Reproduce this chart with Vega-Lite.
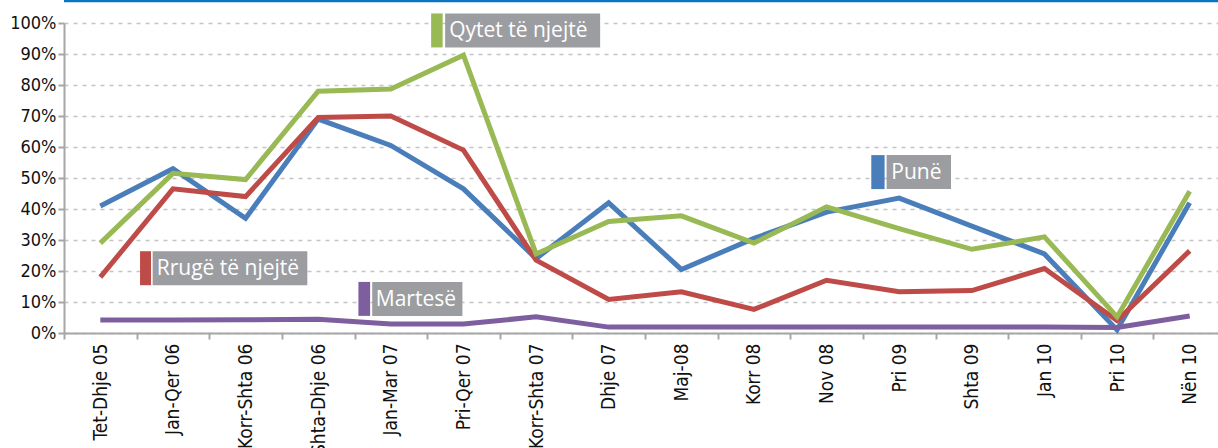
{
  "$schema": "https://vega.github.io/schema/vega-lite/v6.json",
  "autosize": {"type": "none"},
  "width": 1154,
  "height": 310,
  "padding": {"left": 64, "top": 23, "right": 0, "bottom": 115},
  "background": "white",
  "config": {
    "view": {"stroke": null},
    "axis": {"labelFont": "DejaVu Sans Condensed, Liberation Sans Narrow, sans-serif", "labelFontSize": 18, "labelColor": "#111111", "domainColor": "#a6a6a6", "domainWidth": 2, "tickColor": "#a6a6a6", "tickWidth": 2, "tickSize": 6, "title": null}
  },
  "datasets": {
    "series": [
      {"p": "Tet-Dhje 05", "s": "Punë", "v": 41},
      {"p": "Jan-Qer 06", "s": "Punë", "v": 53},
      {"p": "Korr-Shta 06", "s": "Punë", "v": 37},
      {"p": "Shta-Dhje 06", "s": "Punë", "v": 69},
      {"p": "Jan-Mar 07", "s": "Punë", "v": 60.5},
      {"p": "Pri-Qer 07", "s": "Punë", "v": 46.5},
      {"p": "Korr-Shta 07", "s": "Punë", "v": 24},
      {"p": "Dhje 07", "s": "Punë", "v": 42},
      {"p": "Maj-08", "s": "Punë", "v": 20.5},
      {"p": "Korr 08", "s": "Punë", "v": 30.5},
      {"p": "Nov 08", "s": "Punë", "v": 39},
      {"p": "Pri 09", "s": "Punë", "v": 43.5},
      {"p": "Shta 09", "s": "Punë", "v": 34.5},
      {"p": "Jan 10", "s": "Punë", "v": 25.5},
      {"p": "Pri 10", "s": "Punë", "v": 1},
      {"p": "Nën 10", "s": "Punë", "v": 42},
      {"p": "Tet-Dhje 05", "s": "Rrugë të njejtë", "v": 18},
      {"p": "Jan-Qer 06", "s": "Rrugë të njejtë", "v": 46.5},
      {"p": "Korr-Shta 06", "s": "Rrugë të njejtë", "v": 44},
      {"p": "Shta-Dhje 06", "s": "Rrugë të njejtë", "v": 69.5},
      {"p": "Jan-Mar 07", "s": "Rrugë të njejtë", "v": 70},
      {"p": "Pri-Qer 07", "s": "Rrugë të njejtë", "v": 59},
      {"p": "Korr-Shta 07", "s": "Rrugë të njejtë", "v": 23.5},
      {"p": "Dhje 07", "s": "Rrugë të njejtë", "v": 10.8},
      {"p": "Maj-08", "s": "Rrugë të njejtë", "v": 13.3},
      {"p": "Korr 08", "s": "Rrugë të njejtë", "v": 7.6},
      {"p": "Nov 08", "s": "Rrugë të njejtë", "v": 17},
      {"p": "Pri 09", "s": "Rrugë të njejtë", "v": 13.3},
      {"p": "Shta 09", "s": "Rrugë të njejtë", "v": 13.7},
      {"p": "Jan 10", "s": "Rrugë të njejtë", "v": 20.8},
      {"p": "Pri 10", "s": "Rrugë të njejtë", "v": 4},
      {"p": "Nën 10", "s": "Rrugë të njejtë", "v": 26.5},
      {"p": "Tet-Dhje 05", "s": "Qytet të njejtë", "v": 29},
      {"p": "Jan-Qer 06", "s": "Qytet të njejtë", "v": 51.5},
      {"p": "Korr-Shta 06", "s": "Qytet të njejtë", "v": 49.5},
      {"p": "Shta-Dhje 06", "s": "Qytet të njejtë", "v": 78},
      {"p": "Jan-Mar 07", "s": "Qytet të njejtë", "v": 78.7},
      {"p": "Pri-Qer 07", "s": "Qytet të njejtë", "v": 89.6},
      {"p": "Korr-Shta 07", "s": "Qytet të njejtë", "v": 25.5},
      {"p": "Dhje 07", "s": "Qytet të njejtë", "v": 36},
      {"p": "Maj-08", "s": "Qytet të njejtë", "v": 37.8},
      {"p": "Korr 08", "s": "Qytet të njejtë", "v": 29},
      {"p": "Nov 08", "s": "Qytet të njejtë", "v": 40.7},
      {"p": "Pri 09", "s": "Qytet të njejtë", "v": 33.7},
      {"p": "Shta 09", "s": "Qytet të njejtë", "v": 27},
      {"p": "Jan 10", "s": "Qytet të njejtë", "v": 31},
      {"p": "Pri 10", "s": "Qytet të njejtë", "v": 5.2},
      {"p": "Nën 10", "s": "Qytet të njejtë", "v": 45.7},
      {"p": "Tet-Dhje 05", "s": "Martesë", "v": 4.2},
      {"p": "Jan-Qer 06", "s": "Martesë", "v": 4.2},
      {"p": "Korr-Shta 06", "s": "Martesë", "v": 4.3},
      {"p": "Shta-Dhje 06", "s": "Martesë", "v": 4.4},
      {"p": "Jan-Mar 07", "s": "Martesë", "v": 2.9},
      {"p": "Pri-Qer 07", "s": "Martesë", "v": 2.9},
      {"p": "Korr-Shta 07", "s": "Martesë", "v": 5.2},
      {"p": "Dhje 07", "s": "Martesë", "v": 1.9},
      {"p": "Maj-08", "s": "Martesë", "v": 1.9},
      {"p": "Korr 08", "s": "Martesë", "v": 1.9},
      {"p": "Nov 08", "s": "Martesë", "v": 1.9},
      {"p": "Pri 09", "s": "Martesë", "v": 1.9},
      {"p": "Shta 09", "s": "Martesë", "v": 1.9},
      {"p": "Jan 10", "s": "Martesë", "v": 1.9},
      {"p": "Pri 10", "s": "Martesë", "v": 1.8},
      {"p": "Nën 10", "s": "Martesë", "v": 5.5}
    ],
    "notes": [
      {"p": "Pri-Qer 07", "v": 97.6, "t": "Qytet të njejtë"},
      {"p": "Pri 09", "v": 51.9, "t": "Punë"},
      {"p": "Jan-Qer 06", "v": 20.9, "t": "Rrugë të njejtë"},
      {"p": "Jan-Mar 07", "v": 11.0, "t": "Martesë"}
    ],
    "edge": [{"v": 107.1}]
  },
  "encoding": {
    "x": {
      "field": "p", "type": "ordinal", "sort": null,
      "scale": {"range": [0, 1162], "paddingInner": 0, "paddingOuter": 0},
      "axis": {"labelAngle": -90, "tickBand": "extent", "labelPadding": 4, "grid": false, "labelFontSize": 19}
    },
    "y": {
      "field": "v", "type": "quantitative",
      "scale": {"domain": [0, 100], "nice": false, "zero": true},
      "axis": {"values": [0, 10, 20, 30, 40, 50, 60, 70, 80, 90, 100], "labelExpr": "datum.value + '%'", "grid": true, "gridColor": "#c4c4c4", "gridDash": [4, 5], "gridWidth": 1.5, "labelPadding": 2}
    }
  },
  "layer": [
    {
      "data": {"name": "edge"},
      "mark": {"type": "rule", "color": "#0a74c4", "strokeWidth": 2.5, "clip": false},
      "encoding": {"x": null, "y": {"field": "v", "type": "quantitative"}}
    },
    {
      "data": {"name": "series"},
      "mark": {"type": "line", "strokeWidth": 5, "strokeCap": "butt", "strokeJoin": "miter"},
      "encoding": {
        "color": {
          "field": "s", "type": "nominal", "legend": null,
          "scale": {"domain": ["Punë", "Rrugë të njejtë", "Qytet të njejtë", "Martesë"], "range": ["#4a7ebb", "#be4b48", "#98b954", "#7d5fa0"]}
        }
      }
    },
    {
      "data": {"name": "notes"},
      "transform": [{"filter": "datum.t === 'Qytet të njejtë'"}],
      "layer": [
        {"mark": {"type": "point", "filled": true, "opacity": 1, "size": 4, "color": "#98b954", "strokeWidth": 0, "shape": "M-32.3,-17H-20.8V17H-32.3Z"}},
        {"mark": {"type": "point", "filled": true, "opacity": 1, "size": 4, "color": "#9c9da1", "strokeWidth": 0, "shape": "M-18.3,-17H136.7V17H-18.3Z"}},
        {"mark": {"type": "text", "align": "left", "baseline": "middle", "dx": -14.3, "dy": 1, "font": "Open Sans", "fontSize": 21, "color": "white"}, "encoding": {"text": {"field": "t"}}}
      ]
    },
    {
      "data": {"name": "notes"},
      "transform": [{"filter": "datum.t === 'Punë'"}],
      "layer": [
        {"mark": {"type": "point", "filled": true, "opacity": 1, "size": 4, "color": "#4a7ebb", "strokeWidth": 0, "shape": "M-27.9,-17H-14.6V17H-27.9Z"}},
        {"mark": {"type": "point", "filled": true, "opacity": 1, "size": 4, "color": "#9c9da1", "strokeWidth": 0, "shape": "M-12.6,-17H51.8V17H-12.6Z"}},
        {"mark": {"type": "text", "align": "left", "baseline": "middle", "dx": -7.9, "dy": 1, "font": "Open Sans", "fontSize": 21, "color": "white"}, "encoding": {"text": {"field": "t"}}}
      ]
    },
    {
      "data": {"name": "notes"},
      "transform": [{"filter": "datum.t === 'Rrugë të njejtë'"}],
      "layer": [
        {"mark": {"type": "point", "filled": true, "opacity": 1, "size": 4, "color": "#be4b48", "strokeWidth": 0, "shape": "M-32.9,-17H-21.9V17H-32.9Z"}},
        {"mark": {"type": "point", "filled": true, "opacity": 1, "size": 4, "color": "#9c9da1", "strokeWidth": 0, "shape": "M-20.3,-17H134.4V17H-20.3Z"}},
        {"mark": {"type": "text", "align": "left", "baseline": "middle", "dx": -16.2, "dy": 1, "font": "Open Sans", "fontSize": 21, "color": "white"}, "encoding": {"text": {"field": "t"}}}
      ]
    },
    {
      "data": {"name": "notes"},
      "transform": [{"filter": "datum.t === 'Martesë'"}],
      "layer": [
        {"mark": {"type": "point", "filled": true, "opacity": 1, "size": 4, "color": "#7d5fa0", "strokeWidth": 0, "shape": "M-32.4,-17H-20.7V17H-32.4Z"}},
        {"mark": {"type": "point", "filled": true, "opacity": 1, "size": 4, "color": "#9c9da1", "strokeWidth": 0, "shape": "M-18.6,-17H71.6V17H-18.6Z"}},
        {"mark": {"type": "text", "align": "left", "baseline": "middle", "dx": -15, "dy": 1, "font": "Open Sans", "fontSize": 21, "color": "white"}, "encoding": {"text": {"field": "t"}}}
      ]
    }
  ]
}
